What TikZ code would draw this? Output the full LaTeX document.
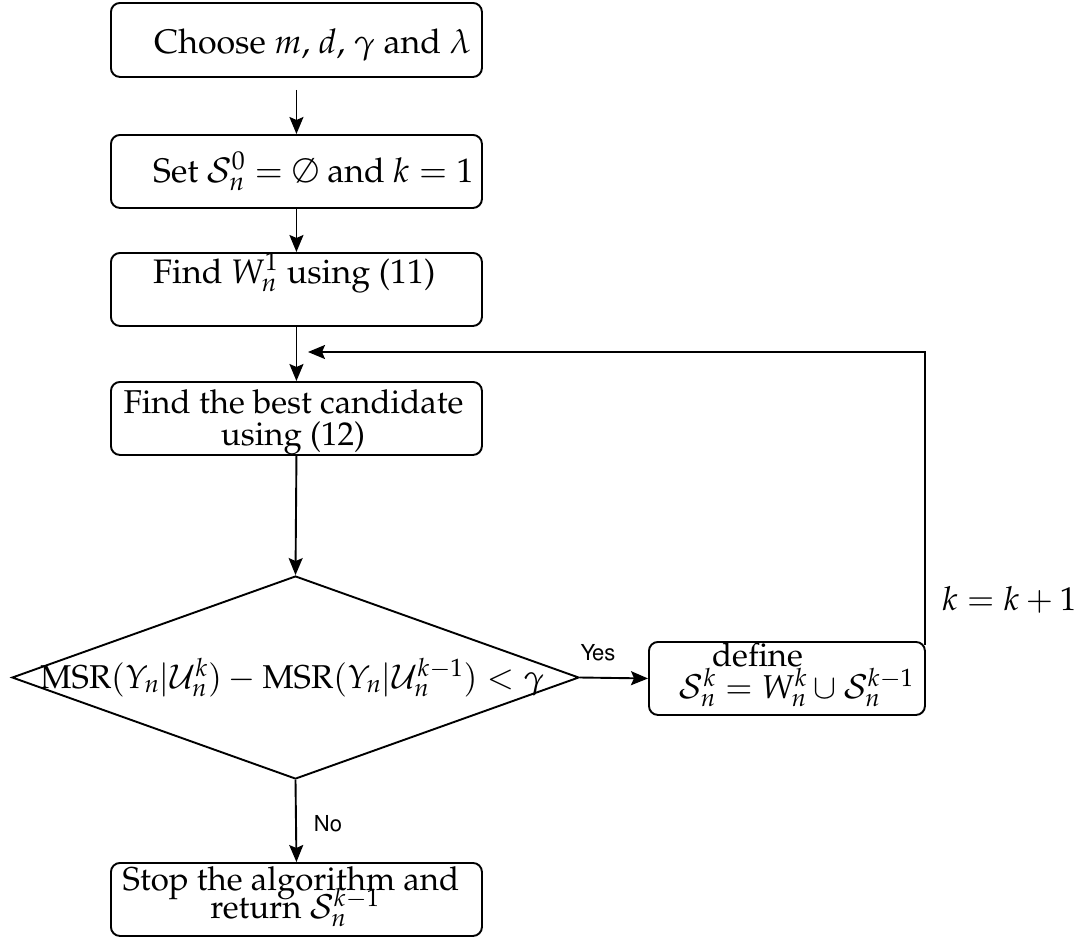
\documentclass[tikz,border=0pt]{standalone}
\usepackage[T1]{fontenc}
\usepackage{mathpazo}
\usepackage{helvet}
\usetikzlibrary{shapes.geometric,arrows.meta}
\begin{document}
\begin{tikzpicture}[x=1pt,y=-1pt,
 box/.style={draw, line width=1.9pt, rounded corners=9pt, minimum width=371pt, minimum height=73pt, inner sep=0pt, anchor=north west},
 txtw/.style={inner sep=0pt, anchor=base west},
 txtc/.style={inner sep=0pt, anchor=base},
 big/.style={font=\fontsize{34}{40}\selectfont},
 med/.style={font=\fontsize{33}{38}\selectfont},
 lab/.style={font=\sffamily\fontsize{22}{26}\selectfont, inner sep=0pt},
 arr/.style={-{Stealth[length=17pt,width=14pt,inset=3pt]}, line width=1.9pt}]
\useasboundingbox (0,0) rectangle (1089,940);

% boxes
\node[box, minimum height=74pt] (b1) at (110,2) {};
\node[box] (b2) at (110,134) {};
\node[box] (b3) at (110,252) {};
\node[box] (b4) at (110,381) {};
\node[box, minimum width=276pt] (b5) at (648,641) {};
\node[box] (b6) at (110,862) {};
\node[draw, diamond, line width=1.9pt, minimum width=567pt, minimum height=203pt, inner sep=0pt] (d) at (295.5,677.5) {};

% texts
\node[txtw, big] (t1) at (154,53) {Choose $m$, $d$, $\gamma$ and $\lambda$};
\node[txtw, big] (t2) at (153,182) {Set $\mathcal{S}_n^0=\emptyset$ and $k=1$};
\node[txtw, big] (t3) at (153,283) {Find $W_n^1$ using (11)};
\node[txtc, med] (t4a) at (293.5,413) {Find the best candidate};
\node[txtc, med] (t4b) at (293,445) {using (12)};
\node[txtc, med] (td) at (292.5,688) {$\mathrm{MSR}(Y_n|\mathcal{U}_n^k)-\mathrm{MSR}(Y_n|\mathcal{U}_n^{k-1})<\gamma$};
\node[txtc, med] (t5a) at (757.5,666) {define};
\node[txtc, med] (t5b) at (796.5,698) {$\mathcal{S}_n^k=W_n^k\cup\mathcal{S}_n^{k-1}$};
\node[txtc, med] (t6a) at (291,890) {Stop the algorithm and};
\node[txtc, med] (t6b) at (295,918) {return $\mathcal{S}_n^{k-1}$};
\node[txtw, med] (tk) at (942,610) {$k=k+1$};
\node[lab] (yes) at (598,653) {Yes};
\node[lab] (no) at (328,824) {No};

% connectors
\draw[arr, shorten <=12pt] (b1.south) -- (b2.north);
\draw[arr] (b2.south) -- (b3.north);
\draw[arr] (b3.south) -- (b4.north);
\draw[arr] (b4.south) -- (d.north);
\draw[arr] (d.east) -- (b5.west);
\draw[arr] (d.south) -- (b6.north);
\coordinate (fb) at (308,352);
\draw[arr] ([xshift=-1pt,yshift=-4pt]b5.north east) |- (fb);
\end{tikzpicture}
\end{document}
